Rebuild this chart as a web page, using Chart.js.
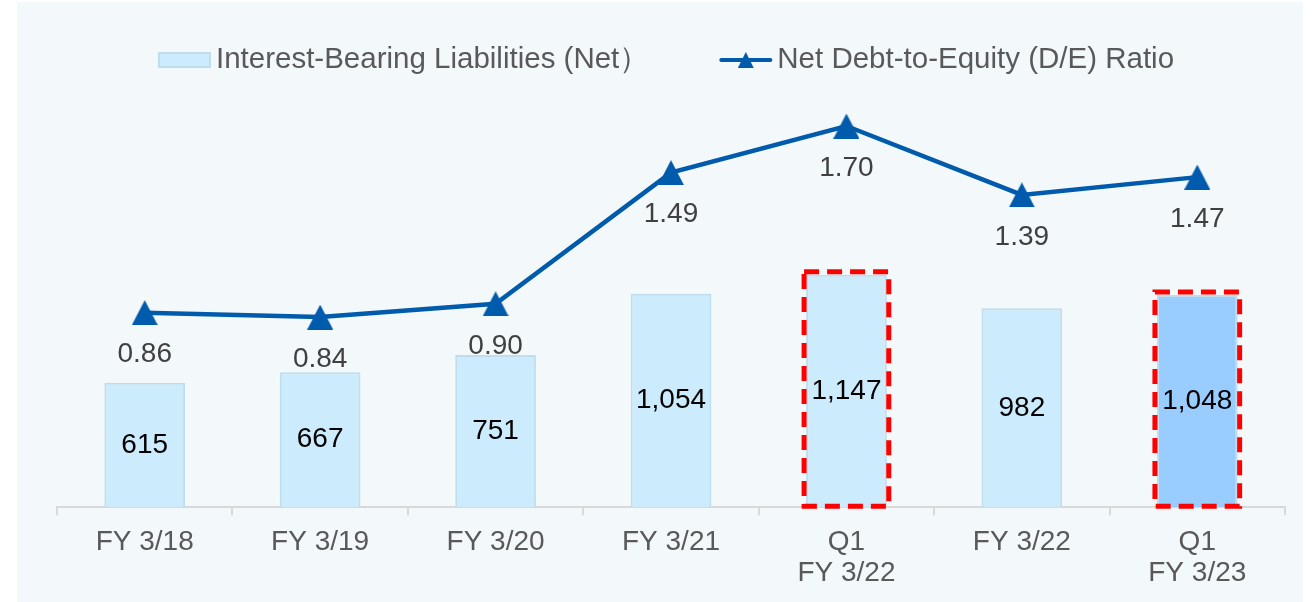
<!DOCTYPE html>
<html>
<head>
<meta charset="utf-8">
<script src="https://cdn.jsdelivr.net/npm/chart.js@4.4.1/dist/chart.umd.min.js"></script>
<style>
  body { margin: 0; background: #fff; }
</style>
</head>
<body>
<canvas id="deChart" width="1314" height="602"></canvas>
<script>
var categories = ['FY 3/18', 'FY 3/19', 'FY 3/20', 'FY 3/21', ['Q1', 'FY 3/22'], 'FY 3/22', ['Q1', 'FY 3/23']];
var liabilities = [615, 667, 751, 1054, 1147, 982, 1048];
var deRatio = [0.86, 0.84, 0.90, 1.49, 1.70, 1.39, 1.47];
var highlighted = [4, 6];

var FONT = "'Liberation Sans', Arial, sans-serif";
var lineBlue = '#005BAC';
var barFill = '#CCEBFC';
var barEdge = '#BFDDEE';

var barColors = liabilities.map(function (v, i) {
    return i === 6 ? '#99CCFF' : barFill;
});

// triangle marker centred on its box, like the office chart
function makeTriangle(w, h) {
    var c = document.createElement('canvas');
    c.width = w;
    c.height = h;
    var g = c.getContext('2d');
    g.fillStyle = lineBlue;
    g.beginPath();
    g.moveTo(w / 2, 0);
    g.lineTo(w, h);
    g.lineTo(0, h);
    g.closePath();
    g.fill();
    return c;
}
var marker = makeTriangle(26, 25);

// panel background
var panelBg = {
    id: 'panelBg',
    beforeDraw: function (chart) {
        var ctx = chart.ctx;
        ctx.save();
        ctx.fillStyle = '#ffffff';
        ctx.fillRect(0, 0, chart.width, chart.height);
        ctx.fillStyle = '#F3F8FB';
        ctx.fillRect(17, 2, 1286, 600);
        ctx.restore();
    }
};

// value labels + red dashed boxes
var valueLabels = {
    id: 'valueLabels',
    afterDatasetsDraw: function (chart) {
        var ctx = chart.ctx;
        var bars = chart.getDatasetMeta(1).data;
        var points = chart.getDatasetMeta(0).data;
        ctx.save();

        ctx.strokeStyle = '#FF0000';
        ctx.lineWidth = 5;
        ctx.setLineDash([15, 8]);
        highlighted.forEach(function (i) {
            var el = bars[i];
            ctx.strokeRect(el.x - el.width / 2 - 2, el.y - 3, el.width + 4, el.base - el.y + 2);
        });
        ctx.setLineDash([]);

        ctx.font = '28px ' + FONT;
        ctx.textAlign = 'center';
        ctx.textBaseline = 'middle';
        ctx.fillStyle = '#000000';
        bars.forEach(function (el, i) {
            ctx.fillText(liabilities[i].toLocaleString('en-US'), el.x, (el.y + el.base) / 2);
        });
        ctx.fillStyle = '#404040';
        points.forEach(function (el, i) {
            ctx.fillText(deRatio[i].toFixed(2), el.x, el.y + 42);
        });
        ctx.restore();
    }
};

// legend drawn by hand: box + line-with-triangle
var topLegend = {
    id: 'topLegend',
    afterDraw: function (chart) {
        var ctx = chart.ctx;
        var ds = chart.data.datasets;
        var y = 60;
        ctx.save();
        ctx.font = '29.5px ' + FONT;
        ctx.textBaseline = 'middle';
        ctx.fillStyle = '#595959';
        var w1 = ctx.measureText(ds[1].label).width;
        var w2 = ctx.measureText(ds[0].label).width;
        var sym = 53, gap = 5, between = 70;
        var total = sym + gap + w1 + between + sym + gap + w2;
        var x = 666 - total / 2;

        ctx.fillStyle = barFill;
        ctx.fillRect(x, y - 8, sym, 16);
        ctx.strokeStyle = barEdge;
        ctx.lineWidth = 2;
        ctx.strokeRect(x + 1, y - 7, sym - 2, 14);
        ctx.fillStyle = '#595959';
        ctx.fillText(ds[1].label, x + sym + gap, y);

        x += sym + gap + w1 + between;
        ctx.strokeStyle = lineBlue;
        ctx.lineWidth = 4;
        ctx.lineCap = 'round';
        ctx.beginPath();
        ctx.moveTo(x + 2, y);
        ctx.lineTo(x + sym - 2, y);
        ctx.stroke();
        ctx.drawImage(marker, x + sym / 2 - 8, y - 8, 16, 16);
        ctx.fillStyle = '#595959';
        ctx.fillText(ds[0].label, x + sym + gap, y);
        ctx.restore();
    }
};

new Chart(document.getElementById('deChart'), {
    type: 'bar',
    data: {
        labels: categories,
        datasets: [{
            type: 'line',
            label: 'Net Debt-to-Equity (D/E) Ratio',
            data: deRatio,
            yAxisID: 'y1',
            borderColor: lineBlue,
            borderWidth: 4.5,
            pointStyle: marker,
            pointRadius: 13,
            pointBackgroundColor: lineBlue,
            pointBorderColor: lineBlue,
            tension: 0,
            order: 0
        }, {
            type: 'bar',
            label: 'Interest-Bearing Liabilities (Net\uFF09',
            data: liabilities,
            yAxisID: 'y',
            backgroundColor: barColors,
            borderColor: barEdge,
            borderWidth: 2,
            categoryPercentage: 1,
            barPercentage: 0.46,
            order: 1
        }]
    },
    options: {
        responsive: false,
        animation: false,
        layout: {
            padding: { left: 57, right: 29, top: 100, bottom: 2 }
        },
        plugins: {
            legend: { display: false },
            tooltip: { enabled: false }
        },
        scales: {
            x: {
                grid: {
                    display: true,
                    drawOnChartArea: false,
                    drawTicks: true,
                    tickLength: 8,
                    color: '#D9D9D9',
                    lineWidth: 2
                },
                border: { color: '#D9D9D9', width: 2 },
                ticks: {
                    color: '#595959',
                    font: { family: FONT, size: 28, lineHeight: 1.12 },
                    padding: 11,
                    maxRotation: 0,
                    autoSkip: false
                }
            },
            y: {
                display: false,
                min: 0,
                max: 2010
            },
            y1: {
                display: false,
                position: 'right',
                min: -0.0157,
                max: 1.817
            }
        }
    },
    plugins: [panelBg, valueLabels, topLegend]
});
</script>
</body>
</html>
